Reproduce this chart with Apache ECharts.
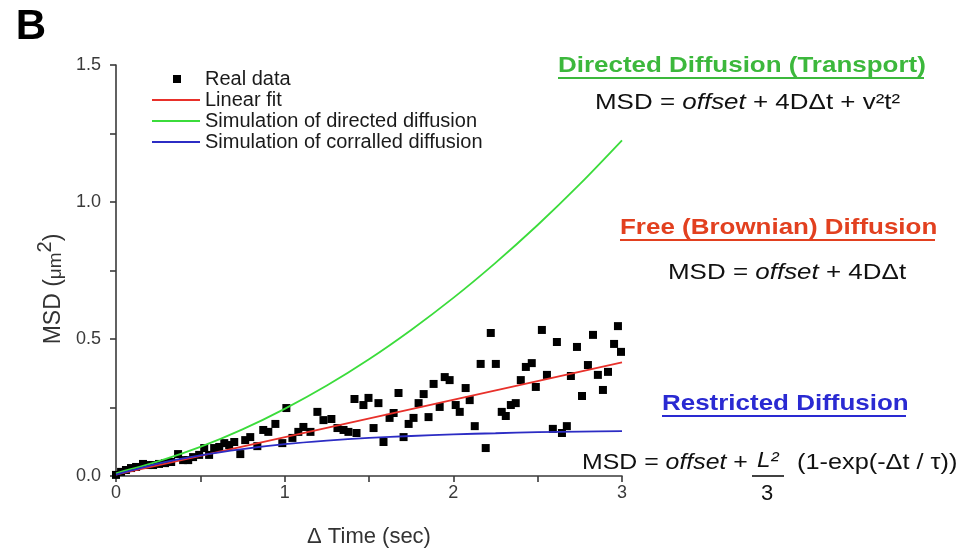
<!DOCTYPE html>
<html>
<head>
<meta charset="utf-8">
<script src="https://cdn.jsdelivr.net/npm/echarts@6/dist/echarts.min.js"></script>
<style>
  html, body { margin: 0; padding: 0; background: #fff; }
  #chart { width: 963px; height: 550px; }
</style>
</head>
<body>
<div id="chart"></div>
<script>
// Measured mean squared displacement (time lag in s, MSD in µm²)
const realTime = [
  0.000, 0.030, 0.059, 0.089, 0.119, 0.160, 0.190, 0.220, 0.255, 0.291,
  0.327, 0.368, 0.398, 0.428, 0.457, 0.493, 0.523, 0.552, 0.582, 0.612,
  0.642, 0.671, 0.701, 0.737, 0.766, 0.796, 0.838, 0.873, 0.903, 0.945,
  0.986, 1.010, 1.046, 1.081, 1.111, 1.153, 1.194, 1.230, 1.277, 1.313,
  1.349, 1.378, 1.414, 1.426, 1.467, 1.497, 1.527, 1.556, 1.586, 1.622,
  1.646, 1.675, 1.705, 1.735, 1.764, 1.794, 1.824, 1.853, 1.883, 1.919,
  1.949, 1.978, 2.014, 2.038, 2.073, 2.097, 2.127, 2.162, 2.192, 2.222,
  2.252, 2.287, 2.311, 2.341, 2.370, 2.400, 2.430, 2.465, 2.489, 2.525,
  2.555, 2.590, 2.614, 2.644, 2.673, 2.697, 2.733, 2.763, 2.798, 2.828,
  2.857, 2.887, 2.917, 2.953, 2.976, 2.994
];
const realMsd = [
  0.004, 0.015, 0.022, 0.029, 0.033, 0.044, 0.040, 0.040, 0.044, 0.047,
  0.051, 0.080, 0.058, 0.058, 0.069, 0.077, 0.102, 0.077, 0.102, 0.106,
  0.120, 0.113, 0.124, 0.080, 0.131, 0.142, 0.109, 0.168, 0.161, 0.190,
  0.120, 0.248, 0.139, 0.161, 0.179, 0.161, 0.234, 0.204, 0.208, 0.175,
  0.168, 0.161, 0.281, 0.157, 0.259, 0.285, 0.175, 0.266, 0.124, 0.212,
  0.230, 0.303, 0.142, 0.190, 0.212, 0.266, 0.299, 0.215, 0.336, 0.252,
  0.361, 0.350, 0.259, 0.234, 0.321, 0.277, 0.182, 0.409, 0.102, 0.522,
  0.409, 0.234, 0.219, 0.259, 0.266, 0.350, 0.398, 0.412, 0.325, 0.533,
  0.369, 0.172, 0.489, 0.157, 0.182, 0.365, 0.471, 0.292, 0.405, 0.515,
  0.369, 0.314, 0.380, 0.482, 0.547, 0.453
];

// Linear fit end points
const fitTime = [0, 3];
const fitMsd = [0.005, 0.415];

// Simulated curves sampled every 0.25 s
const simTime = [0, 0.25, 0.5, 0.75, 1.0, 1.25, 1.5, 1.75, 2.0, 2.25, 2.5, 2.75, 3.0];
const directedMsd = [0.010, 0.053, 0.106, 0.170, 0.245, 0.330, 0.426, 0.533, 0.650, 0.778, 0.916, 1.065, 1.225];
const corralledMsd = [0.005, 0.045, 0.075, 0.098, 0.116, 0.129, 0.139, 0.146, 0.152, 0.156, 0.160, 0.162, 0.164];

// Axis ticks
const xTicks = { min: 0, max: 3, step: 0.5 };
const yTicks = { min: 0, max: 1.5, step: 0.25 };

const seriesNames = ['Real data', 'Linear fit', 'Simulation of directed diffusion', 'Simulation of corralled diffusion'];

const FONT = '"Liberation Sans", Arial, Helvetica, sans-serif';
const zip = (xs, ys) => xs.map((x, i) => [x, ys[i]]);

const chart = echarts.init(document.getElementById('chart'), null, { renderer: 'canvas' });

const axisCommon = {
  axisLine: { show: true, lineStyle: { color: '#3a3a3a', width: 1.6 } },
  axisTick: { show: true, inside: false, length: 6, lineStyle: { color: '#3a3a3a', width: 1.6 } },
  splitLine: { show: false },
};

// legend glyphs, drawn in a 48 x 12 box
const squareIcon = 'path://M0 0M21 2h8v8h-8zM48 12';
const lineIcon = 'path://M0 0M0 5.1h48v1.8h-48zM48 12';

const HS = 1.18; // horizontal stretch of the annotation text

chart.setOption({
  backgroundColor: '#ffffff',
  animation: false,
  grid: { left: 116, right: 341, top: 65, bottom: 74, outerBoundsMode: 'none', containLabel: false },
  xAxis: Object.assign({
    type: 'value',
    min: xTicks.min, max: xTicks.max, interval: xTicks.step,
    name: 'Δ Time (sec)',
    nameLocation: 'middle',
    nameGap: 50,
    nameTextStyle: { fontFamily: FONT, fontSize: 22, color: '#333' },
    axisLabel: {
      margin: 8, fontFamily: FONT, fontSize: 18, color: '#3a3a3a',
      formatter: v => (Math.abs(v - Math.round(v)) < 1e-9 ? String(Math.round(v)) : '')
    }
  }, axisCommon),
  yAxis: Object.assign({
    type: 'value',
    min: yTicks.min, max: yTicks.max, interval: yTicks.step,
    axisLabel: {
      margin: 15, fontFamily: FONT, fontSize: 18, color: '#3a3a3a',
      formatter: v => (Math.abs(v * 2 - Math.round(v * 2)) < 1e-9 ? v.toFixed(1) : '')
    }
  }, axisCommon),
  legend: {
    orient: 'vertical',
    left: 152,
    top: 69,
    padding: 0,
    itemWidth: 48,
    itemHeight: 12,
    itemGap: 1,
    selectedMode: false,
    textStyle: { fontFamily: FONT, fontSize: 20, color: '#1a1a1a' },
    data: [
      { name: seriesNames[0], icon: squareIcon },
      { name: seriesNames[1], icon: lineIcon },
      { name: seriesNames[2], icon: lineIcon },
      { name: seriesNames[3], icon: lineIcon }
    ]
  },
  series: [
    {
      name: seriesNames[0],
      type: 'scatter',
      symbol: 'rect',
      symbolSize: 8,
      itemStyle: { color: '#000', opacity: 1 },
      data: zip(realTime, realMsd)
    },
    {
      name: seriesNames[1],
      type: 'line',
      symbol: 'none',
      lineStyle: { color: '#e8302a', width: 1.8 },
      itemStyle: { color: '#e8302a' },
      data: zip(fitTime, fitMsd)
    },
    {
      name: seriesNames[2],
      type: 'line',
      symbol: 'none',
      smooth: 0.3,
      lineStyle: { color: '#3bdc3b', width: 1.8 },
      itemStyle: { color: '#3bdc3b' },
      data: zip(simTime, directedMsd)
    },
    {
      name: seriesNames[3],
      type: 'line',
      symbol: 'none',
      smooth: 0.3,
      lineStyle: { color: '#2c2cc4', width: 1.8 },
      itemStyle: { color: '#2c2cc4' },
      data: zip(simTime, corralledMsd)
    }
  ],
  graphic: [
    // panel letter
    { type: 'text', x: 31, y: 27, style: { text: 'B', font: 'bold 42px ' + FONT, fill: '#000', textAlign: 'center', textVerticalAlign: 'middle' } },
    // y-axis title
    {
      type: 'text', x: 50, y: 289, rotation: Math.PI / 2,
      style: {
        text: '{a|MSD (}{b|μm}{c|2}{a|)}',
        textAlign: 'center', textVerticalAlign: 'middle',
        rich: {
          a: { font: '23px ' + FONT, fill: '#333', lineHeight: 30, verticalAlign: 'bottom' },
          b: { font: '19px ' + FONT, fill: '#333', lineHeight: 30, verticalAlign: 'bottom' },
          c: { font: '20px ' + FONT, fill: '#333', lineHeight: 30, verticalAlign: 'top' }
        }
      }
    },
    // directed diffusion
    { type: 'text', x: 558, y: 66, scaleX: HS, style: { text: 'Directed Diffusion (Transport)', font: 'bold 22px ' + FONT, fill: '#3cb83c', textAlign: 'left', textVerticalAlign: 'middle' } },
    { type: 'line', shape: { x1: 558, y1: 78, x2: 924, y2: 78 }, style: { stroke: '#3cb83c', lineWidth: 2 } },
    {
      type: 'text', x: 595, y: 103, scaleX: HS,
      style: {
        text: 'MSD = {i|offset} + 4DΔt + v²t²',
        font: '22px ' + FONT, fill: '#111', textAlign: 'left', textVerticalAlign: 'middle',
        rich: { i: { font: 'italic 22px ' + FONT, fill: '#111' } }
      }
    },
    // free diffusion
    { type: 'text', x: 620, y: 228, scaleX: HS, style: { text: 'Free (Brownian) Diffusion', font: 'bold 22px ' + FONT, fill: '#e2401f', textAlign: 'left', textVerticalAlign: 'middle' } },
    { type: 'line', shape: { x1: 620, y1: 240, x2: 935, y2: 240 }, style: { stroke: '#e2401f', lineWidth: 2 } },
    {
      type: 'text', x: 668, y: 273, scaleX: HS,
      style: {
        text: 'MSD = {i|offset} + 4DΔt',
        font: '22px ' + FONT, fill: '#111', textAlign: 'left', textVerticalAlign: 'middle',
        rich: { i: { font: 'italic 22px ' + FONT, fill: '#111' } }
      }
    },
    // restricted diffusion
    { type: 'text', x: 662, y: 404, scaleX: HS, style: { text: 'Restricted Diffusion', font: 'bold 22px ' + FONT, fill: '#2a2ad2', textAlign: 'left', textVerticalAlign: 'middle' } },
    { type: 'line', shape: { x1: 662, y1: 416, x2: 906, y2: 416 }, style: { stroke: '#2a2ad2', lineWidth: 2 } },
    {
      type: 'text', x: 582, y: 463, scaleX: 1.13,
      style: {
        text: 'MSD = {i|offset} +',
        font: '22px ' + FONT, fill: '#111', textAlign: 'left', textVerticalAlign: 'middle',
        rich: { i: { font: 'italic 22px ' + FONT, fill: '#111' } }
      }
    },
    { type: 'text', x: 757, y: 461, scaleX: 1.1, style: { text: 'L²', font: 'italic 22px ' + FONT, fill: '#111', textAlign: 'left', textVerticalAlign: 'middle' } },
    { type: 'line', shape: { x1: 752, y1: 476, x2: 784, y2: 476 }, style: { stroke: '#111', lineWidth: 1.6 } },
    { type: 'text', x: 767, y: 494, style: { text: '3', font: '22px ' + FONT, fill: '#111', textAlign: 'center', textVerticalAlign: 'middle' } },
    { type: 'text', x: 797, y: 463, scaleX: 1.15, style: { text: '(1-exp(-Δt / τ))', font: '22px ' + FONT, fill: '#111', textAlign: 'left', textVerticalAlign: 'middle' } }
  ]
});
</script>
</body>
</html>
